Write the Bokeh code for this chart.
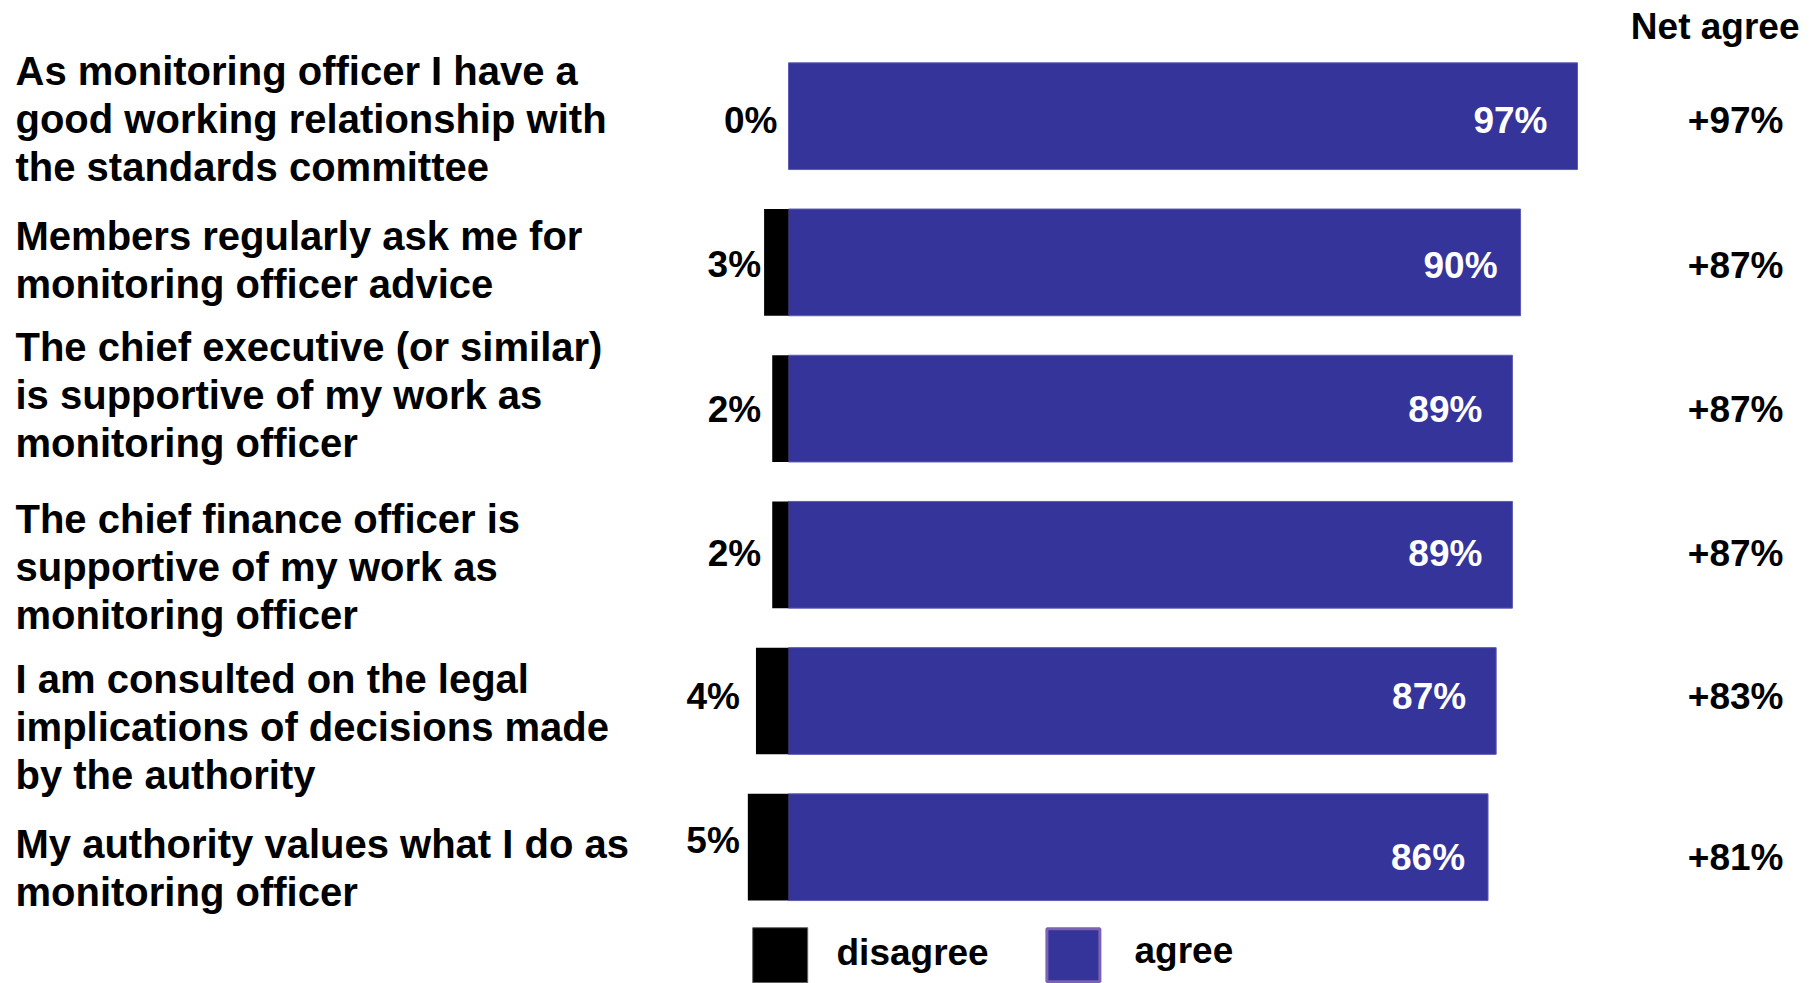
from bokeh.plotting import figure
from bokeh.models import Range1d, ColumnDataSource
from bokeh.core.properties import value
from bokeh.embed import file_html
from bokeh.resources import INLINE

# ---- data ----
categories = [
    "As monitoring officer I have a\ngood working relationship with\nthe standards committee",
    "Members regularly ask me for\nmonitoring officer advice",
    "The chief executive (or similar)\nis supportive of my work as\nmonitoring officer",
    "The chief finance officer is\nsupportive of my work as\nmonitoring officer",
    "I am consulted on the legal\nimplications of decisions made\nby the authority",
    "My authority values what I do as\nmonitoring officer",
]
disagree = [0, 3, 2, 2, 4, 5]
agree = [97, 90, 89, 89, 87, 86]
net_agree = [97, 87, 87, 87, 83, 81]
series_names = ["disagree", "agree"]
net_title = "Net agree"

# ---- layout / style ----
W, H = 1815, 983
PX = 8.134      # pixels per percentage point
X0 = 788        # screen x of the zero line
ROW = 146.2     # pixels per row
Y0 = 115.7      # screen y of first row centre
FONT = value("Liberation Sans")
AGREE_C = "#35349a"
label_offsets = [2.7, -2.5, -13.5, 12.1, 26.1, 20.9]
LINE_GAP = 48
val_dy = [4.6, 3.5, 1.2, -1.2, -4.6, 10.4]
dis_dy = [4.6, 2.3, 1.2, -1.2, -4.6, -7.0]
dis_dx = [-11, -3, -11, -11, -16, -8]
agree_dx = [-30, -23, -30, -30, -30, -23]


def sx(fx):
    return (fx - X0) / PX


def sy(fy):
    return (fy - Y0) / ROW


p = figure(width=W, height=H, output_backend="svg", toolbar_location=None,
           x_range=Range1d(sx(0), sx(W)), y_range=Range1d(sy(H), sy(0)),
           x_axis_location=None, y_axis_location=None,
           min_border=0, outline_line_color=None)
p.grid.visible = False
p.background_fill_color = "white"
p.border_fill_color = "white"

rows = list(range(len(categories)))
src = ColumnDataSource(dict(
    y=rows,
    neg_dis=[-d for d in disagree],
    agree=agree,
    dis_lbl=[f"{d}%" for d in disagree],
    agree_lbl=[f"{a}%" for a in agree],
    net_lbl=[f"+{n}%" for n in net_agree],
    net_x=[sx(1815)] * len(rows),
    val_dy=val_dy,
    dis_dy=dis_dy,
    dis_dx=dis_dx,
    agree_dx=agree_dx,
))

p.hbar(y="y", left=0, right="agree", height=0.73, fill_color=AGREE_C,
       line_color="#5d5bb5", line_width=1, source=src)
p.hbar(y="y", left="neg_dis", right=0, height=0.73, fill_color="black",
       line_color=None, source=src)

common = dict(text_font=FONT, text_font_style="bold", text_font_size="37px",
              text_baseline="middle")
p.text(x="neg_dis", y="y", text="dis_lbl", x_offset="dis_dx", y_offset="dis_dy",
       text_align="right", text_color="black", source=src, **common)
p.text(x="agree", y="y", text="agree_lbl", x_offset="agree_dx", y_offset="val_dy",
       text_align="right", text_color="white", source=src, **common)
p.text(x="net_x", y="y", text="net_lbl", x_offset=-32, y_offset="val_dy",
       text_align="right", text_color="black", source=src, **common)
p.text(x=[sx(1799)], y=[sy(25.5)], text=[net_title],
       text_align="right", text_color="black", **common)

# category labels, one line at a time
lx, ly, lt, lo = [], [], [], []
for i, cat in enumerate(categories):
    lines = cat.split("\n")
    n = len(lines)
    for j, ln in enumerate(lines):
        lx.append(sx(15))
        ly.append(i)
        lt.append(ln)
        lo.append(label_offsets[i] + (j - (n - 1) / 2) * LINE_GAP)
p.text(x=lx, y=ly, text=lt, y_offset=lo, text_align="left",
       text_baseline="middle", text_font=FONT, text_font_style="bold",
       text_font_size="40px", text_color="black")

# legend
p.rect(x=[sx(779.7)], y=[sy(954.7)], width=55, height=55, width_units="screen",
       height_units="screen", fill_color="black", line_color="#666666", line_width=1)
p.rect(x=[sx(1072.9)], y=[sy(954.7)], width=53, height=53, width_units="screen",
       height_units="screen", fill_color=AGREE_C, line_color="#7b62b2", line_width=3)
p.text(x=[sx(836), sx(1134)], y=[sy(952), sy(950)], text=series_names,
       text_align="left", text_color="black", **common)

open("out.html", "w").write(file_html(p, INLINE))
